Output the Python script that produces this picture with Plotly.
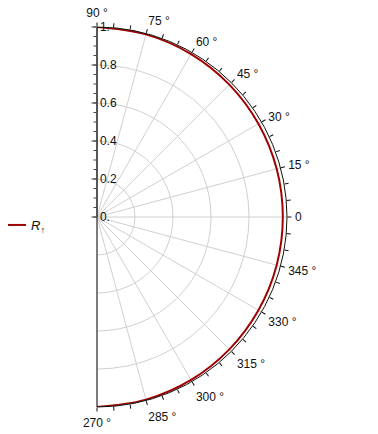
import plotly.graph_objects as go

angles = [-90, -75, -60, -45, -30, -15, 0, 15, 30, 45, 60, 75, 90]
R_up = [1.0, 0.995, 0.99, 0.985, 0.981, 0.979, 0.978, 0.979, 0.981, 0.985, 0.99, 0.995, 1.0]

major_ticks = [-90, -75, -60, -45, -30, -15, 0, 15, 30, 45, 60, 75, 90]
major_text = ["270 °", "285 °", "300 °", "315 °", "330 °", "345 °", "0", "15 °", "30 °", "45 °", "60 °", "75 °", "90 °"]
minor_ticks = list(range(-90, 91, 5))
r_ticks = [0, 0.2, 0.4, 0.6, 0.8, 1.0]
r_text = ["0.", "0.2", "0.4", "0.6", "0.8", "1."]
r_minor = [i * 0.05 for i in range(21)]

W, H = 378, 434
cx, cy, rad = 89, 209, 190
dom_x = [cx / W, (cx + rad) / W]
dom_y = [(H - cy - rad) / H, (H - cy + rad) / H]

font = dict(family="Liberation Sans, Arial, sans-serif", size=12, color="#111")

fig = go.Figure()
fig.add_trace(go.Scatterpolar(r=[None], theta=[None], showlegend=False, subplot="polar"))
fig.add_trace(go.Scatterpolar(r=[None], theta=[None], showlegend=False, subplot="polar3"))
fig.add_trace(go.Scatterpolar(
    r=R_up, theta=angles, mode="lines",
    line=dict(color="#a00000", width=2, shape="spline"),
    name="<i>R</i><sub>↑</sub>", subplot="polar2"))

common = dict(domain=dict(x=dom_x, y=dom_y), sector=[-90, 90], bgcolor="rgba(0,0,0,0)")
fig.update_layout(
    width=W, height=H,
    margin=dict(l=0, r=0, t=0, b=0, autoexpand=False),
    paper_bgcolor="white",
    font=font,
    polar=dict(
        **common,
        angularaxis=dict(direction="counterclockwise", rotation=0, tickmode="array",
                         tickvals=major_ticks, ticktext=major_text,
                         showgrid=True, gridcolor="#d0d0d0", gridwidth=1,
                         showline=False, ticks="outside", ticklen=5, tickcolor="rgba(0,0,0,0)",
                         tickfont=font),
        radialaxis=dict(range=[0, 1], tickvals=r_ticks, ticktext=r_text, angle=90,
                        showgrid=True, gridcolor="#d0d0d0", showline=True, linecolor="#555",
                        ticks="inside", ticklen=5, tickcolor="#444", side="clockwise",
                        tickfont=font, tickangle=90),
    ),
    polar3=dict(
        **common,
        angularaxis=dict(direction="counterclockwise", rotation=0, showgrid=False,
                         showline=False, ticks="", showticklabels=False),
        radialaxis=dict(range=[0, 1], tickvals=r_minor, angle=90, showgrid=False,
                        showline=False, ticks="inside", ticklen=3, tickcolor="#444",
                        side="clockwise", showticklabels=False),
    ),
    polar2=dict(
        **common,
        angularaxis=dict(direction="counterclockwise", rotation=0, tickmode="array",
                         tickvals=minor_ticks, showticklabels=False,
                         showgrid=False, showline=True, linecolor="#111", linewidth=1,
                         ticks="outside", ticklen=4, tickcolor="#111"),
        radialaxis=dict(range=[0, 1], visible=False, showgrid=False),
    ),
    legend=dict(x=-0.045, y=0.5, xanchor="left", yanchor="middle", font=dict(size=13),
                bgcolor="rgba(0,0,0,0)"),
)
fig.write_html("out.html")
